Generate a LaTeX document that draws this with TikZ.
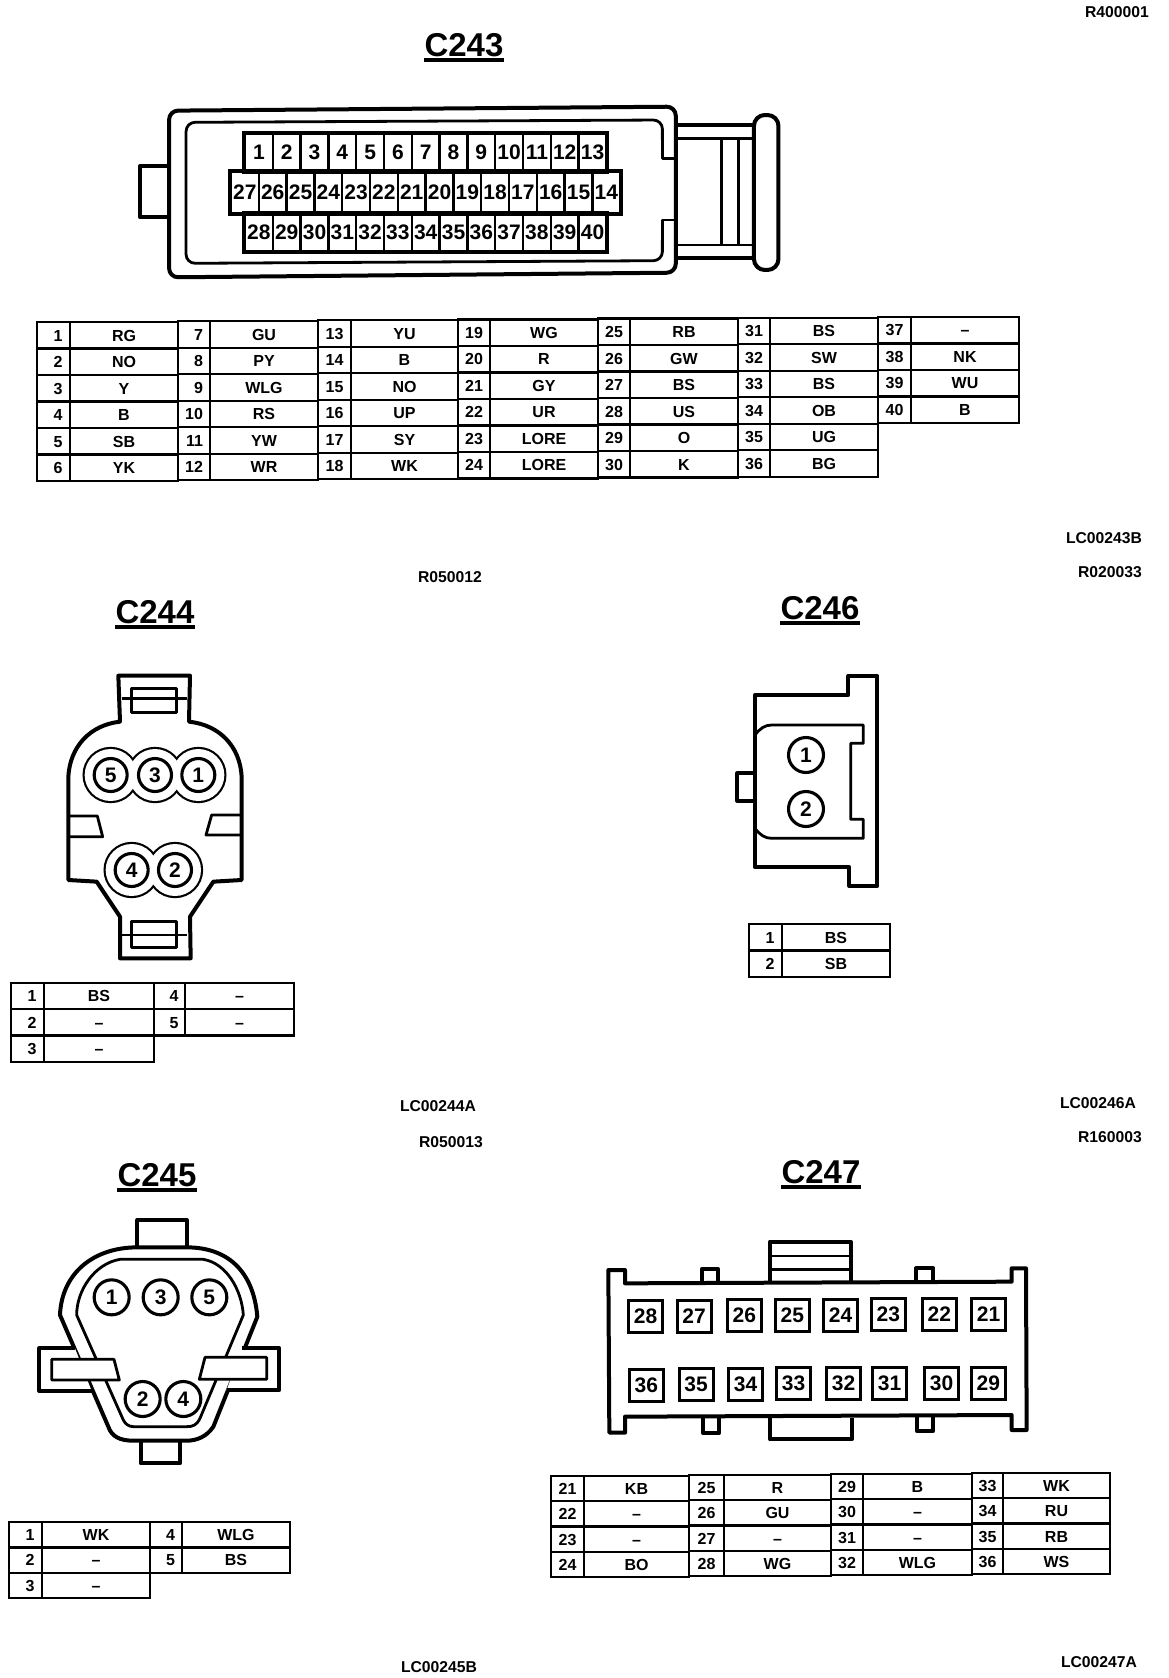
\documentclass[tikz,border=0pt]{standalone}
\usepackage{fontspec}
\setmainfont{Liberation Sans}
\usetikzlibrary{positioning}

\tikzset{
    heavy/.style={line width=4pt, line join=round},
    thin line/.style={line width=2.8pt, line join=round},
    pincell/.style={draw, line width=2.3pt, inner sep=0pt, text height=11.5pt, text depth=0pt, font=\fontsize{16}{16}\selectfont\bfseries},
    wirecell/.style={pincell},
    cavity/.style={draw, line width=2.4pt, inner sep=0pt, font=\fontsize{21}{21}\selectfont\bfseries},
    socket/.style={cavity, circle, line width=3.1pt, minimum size=33pt},
    conntitle/.style={inner sep=0pt, inner ysep=3pt, font=\fontsize{33}{33}\selectfont\bfseries},
    refcode/.style={inner sep=0pt, font=\fontsize{15.7}{16}\selectfont\bfseries},
}

% name, top, row height, rows per column, rise per column, column edges, pin/wire
\newcommand{\wiretable}[7]{%
    \foreach \pin/\wire [count=\k from 0] in {#7} {
        \pgfmathtruncatemacro{\cc}{int(\k/#4)}
        \pgfmathtruncatemacro{\rr}{mod(\k,#4)}
        \pgfmathsetmacro{\xa}{{#6}[2*\cc]}
        \pgfmathsetmacro{\xb}{{#6}[2*\cc+1]}
        \pgfmathsetmacro{\xc}{{#6}[2*\cc+2]}
        \pgfmathsetmacro{\yc}{#2-#5*\cc+(\rr+0.5)*#3}
        \node[pincell, minimum width={(\xb-\xa)*1pt}, minimum height=#3pt] (#1p\pin) at ({(\xa+\xb)/2},\yc) {\makebox[18pt][r]{\pin}};
        \node[wirecell, minimum width={(\xc-\xb)*1pt}, minimum height=#3pt] (#1w\pin) at ({(\xb+\xc)/2},\yc) {\wire};
    }
}

\begin{document}
\begin{tikzpicture}[x=1pt, y=-1pt]
    \useasboundingbox (0,0) rectangle (1168,1678);

    % titles
    \node[conntitle] (t243) at (464,45) {C243};
    \node[conntitle] (t244) at (155,612) {C244};
    \node[conntitle] (t246) at (820,608) {C246};
    \node[conntitle] (t245) at (157,1175) {C245};
    \node[conntitle] (t247) at (821,1172) {C247};
    \foreach \t in {t243,t244,t245,t246,t247}
        \draw[line width=3.4pt] (\t.south west) -- (\t.south east);

    % reference codes
    \node[refcode] (r1) at (1117,12) {R400001};
    \node[refcode] (r2) at (1104,538) {LC00243B};
    \node[refcode] (r3) at (450,577) {R050012};
    \node[refcode] (r4) at (1110,572) {R020033};
    \node[refcode] (r5) at (438,1106) {LC00244A};
    \node[refcode] (r6) at (1098,1103) {LC00246A};
    \node[refcode] (r7) at (451,1142) {R050013};
    \node[refcode] (r8) at (1110,1137) {R160003};
    \node[refcode] (r9) at (439,1667) {LC00245B};
    \node[refcode] (r10) at (1099,1662) {LC00247A};

    % C243 housing
    \begin{scope}[shift={(120,90)}, xscale=1/2.24, yscale=1/3]
        \draw[heavy, rounded corners=9pt] (110,62) -- (1245,50) -- (1245,548) -- (110,562) -- cycle;
        \draw[thin line, rounded corners=9pt] (1215,150) -- (1215,90) -- (148,97) -- (148,520) -- (1215,512) -- (1215,450);
        \draw[thin line] (1215,150) -- (1215,205) -- (1245,205);
        \draw[thin line] (1215,450) -- (1215,390) -- (1245,390);
        \draw[heavy] (110,228) -- (45,228) -- (45,382) -- (110,382);
        \draw[heavy] (1245,105) -- (1425,105);
        \draw[heavy] (1245,505) -- (1425,505);
        \draw[thin line] (1245,145) -- (1420,145);
        \draw[thin line] (1245,465) -- (1420,465);
        \draw[thin line] (1348,145) -- (1348,465);
        \draw[thin line] (1385,145) -- (1385,465);
        \draw[heavy, fill=white, rounded corners=11pt] (1420,75) rectangle (1475,540);
    \end{scope}

    % C243 pins
    \foreach \n [count=\i from 0] in {1,...,13}
        \node[cavity, minimum width=27.8pt, minimum height=38.3pt] (a\n) at ({245+13.9+\i*27.8},152.5) {\n};
    \foreach \n [count=\i from 0] in {27,26,...,14}
        \node[cavity, minimum width=27.8pt, minimum height=41.6pt] (a\n) at ({231+13.9+\i*27.8},192.5) {\n};
    \foreach \n [count=\i from 0] in {28,...,40}
        \node[cavity, minimum width=27.8pt, minimum height=38.3pt] (a\n) at ({245+13.9+\i*27.8},232.5) {\n};
    \draw[line width=2.8pt] (a1.north west) rectangle (a13.south east);
    \draw[line width=2.8pt] (a27.north west) rectangle (a14.south east);
    \draw[line width=2.8pt] (a28.north west) rectangle (a40.south east);

    % C243 table
    \wiretable{a}{322}{26.5}{6}{0.85}{37,70,178,210,318,351,458,490,598,630,738,770,878,911,1019}{
        1/RG,2/NO,3/Y,4/B,5/SB,6/YK,
        7/GU,8/PY,9/WLG,10/RS,11/YW,12/WR,
        13/YU,14/B,15/NO,16/UP,17/SY,18/WK,
        19/WG,20/R,21/GY,22/UR,23/LORE,24/LORE,
        25/RB,26/GW,27/BS,28/US,29/O,30/K,
        31/BS,32/SW,33/BS,34/OB,35/UG,36/BG,
        37/–,38/NK,39/WU,40/B}

    % C244 housing
    \begin{scope}[shift={(20,660)}, scale=1/3]
        \draw[heavy] (300,185) -- (295,47) -- (510,47) -- (507,185)
            .. controls (600,195) and (660,260) .. (665,350)
            -- (665,660) -- (580,665) -- (510,770) -- (512,895) -- (300,895) -- (300,770) -- (230,665) -- (145,660) -- (145,350)
            .. controls (150,260) and (210,195) .. cycle;
        \draw[thin line] (335,85) rectangle (470,158);
        \draw[thin line] (305,115) -- (500,115);
        \draw[thin line] (335,785) rectangle (470,862);
        \draw[thin line] (305,825) -- (500,825);
        \draw[thin line] (150,468) -- (232,468) -- (248,530) -- (150,530);
        \draw[thin line] (668,465) -- (575,465) -- (558,525) -- (668,525);
        \foreach \cx/\cy in {272/345,405/345,535/345,335/630,465/630}
            \draw[line width=3pt] (\cx,\cy) circle (80);
        \foreach \cx/\cy in {272/345,405/345,535/345,335/630,465/630}
            \fill[white] (\cx,\cy) circle (78);
        \node[socket] (b5) at (272,345) {5};
        \node[socket] (b3) at (405,345) {3};
        \node[socket] (b1) at (535,345) {1};
        \node[socket] (b4) at (335,630) {4};
        \node[socket] (b2) at (465,630) {2};
    \end{scope}

    % C244 table
    \wiretable{b}{983}{26.3}{3}{0}{11,44,154,185,294}{1/BS,2/–,3/–,4/–,5/–}

    % C245 housing
    \begin{scope}[shift={(20,1210)}, scale=1/3]
        \draw[heavy] (352,112) -- (352,30) -- (500,30) -- (500,112);
        \draw[heavy] (362,695) -- (362,760) -- (480,760) -- (480,695);
        \draw[heavy] (352,112) -- (500,112)
            .. controls (620,112) and (700,180) .. (712,320)
            -- (580,650) .. controls (560,680) and (530,692) .. (500,692)
            -- (340,692) .. controls (300,692) and (275,680) .. (265,650)
            -- (120,315) .. controls (125,190) and (220,112) .. cycle;
        \draw[thin line] (300,148) -- (550,148)
            .. controls (620,160) and (665,240) .. (670,315)
            -- (540,625) .. controls (530,645) and (520,650) .. (500,650)
            -- (340,650) .. controls (325,650) and (315,640) .. (310,630)
            -- (170,315) .. controls (170,240) and (225,160) .. cycle;
        \draw[heavy, fill=white] (165,415) -- (58,415) -- (58,543) -- (215,543);
        \draw[heavy, fill=white] (665,415) -- (778,415) -- (778,540) -- (620,540);
        \draw[thin line, fill=white] (95,448) -- (282,448) -- (298,510) -- (95,510) -- cycle;
        \draw[thin line, fill=white] (740,442) -- (555,442) -- (538,508) -- (740,508) -- cycle;
        \node[socket, minimum size=35pt] (c1) at (275,262) {1};
        \node[socket, minimum size=35pt] (c3) at (422,262) {3};
        \node[socket, minimum size=35pt] (c5) at (568,262) {5};
        \node[socket, minimum size=35pt] (c2) at (368,567) {2};
        \node[socket, minimum size=35pt] (c4) at (490,567) {4};
    \end{scope}

    % C245 table
    \wiretable{c}{1522}{25.4}{3}{0}{9,42,150,182,290}{1/WK,2/–,3/–,4/WLG,5/BS}

    % C246 housing
    \begin{scope}[shift={(720,660)}, scale=1/3]
        \draw[heavy] (105,105) -- (385,105) -- (385,48) -- (472,48) -- (472,678) -- (388,678) -- (388,622) -- (105,622) -- cycle;
        \draw[heavy] (105,340) -- (52,340) -- (52,422) -- (105,422);
        \draw[thin line] (105,225) .. controls (120,205) and (135,195) .. (155,195)
            -- (430,195) -- (430,250) -- (392,250) -- (392,478) -- (430,478) -- (430,535) -- (155,535)
            .. controls (135,535) and (120,525) .. (105,505);
        \node[socket, minimum size=35pt] (d1) at (258,285) {1};
        \node[socket, minimum size=35pt] (d2) at (258,447) {2};
    \end{scope}

    % C246 table
    \wiretable{d}{924}{26.5}{2}{0}{749,782,890}{1/BS,2/SB}

    % C247 housing
    \begin{scope}[shift={(600,1240)}, scale=1/3]
        \draw[heavy] (510,125) -- (510,5) -- (752,5) -- (752,125);
        \draw[thin line] (510,48) -- (752,48);
        \draw[thin line] (510,88) -- (752,88);
        \draw[heavy] (510,535) -- (510,598) -- (755,598) -- (755,535);
        \draw[heavy] (305,125) -- (305,88) -- (355,88) -- (355,125);
        \draw[heavy] (948,125) -- (948,85) -- (1000,85) -- (1000,125);
        \draw[heavy] (308,530) -- (308,578) -- (358,578) -- (358,530);
        \draw[heavy] (950,530) -- (950,572) -- (1000,572) -- (1000,530);
        \draw[heavy] (25,90) -- (75,90) -- (75,130) -- (1235,125) -- (1235,85) -- (1278,85) -- (1280,570) -- (1235,570) -- (1235,525) -- (75,530) -- (75,578) -- (28,578) -- cycle;
        \foreach \n/\cx/\cy in {28/137/228,27/282/228,26/433/226,25/577/226,24/722/225,23/865/224,22/1018/223,21/1166/222,
                                36/139/436,35/288/433,34/437/433,33/581/431,32/731/430,31/869/430,30/1025/430,29/1165/430}
            \node[cavity, line width=3pt, minimum width=34pt, minimum height=32pt] (e\n) at (\cx,\cy) {\n};
    \end{scope}

    % C247 table
    \wiretable{e}{1476}{25.3}{4}{1}{551,584,689,724,831,863,972,1003,1110}{
        21/KB,22/–,23/–,24/BO,
        25/R,26/GU,27/–,28/WG,
        29/B,30/–,31/–,32/WLG,
        33/WK,34/RU,35/RB,36/WS}
\end{tikzpicture}
\end{document}
